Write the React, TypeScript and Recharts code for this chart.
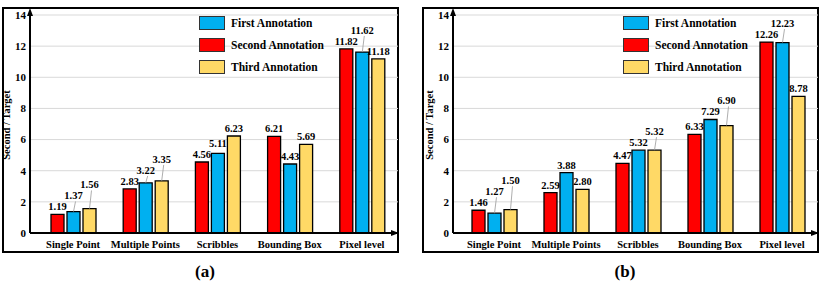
import React from "react";
import { BarChart, Bar, XAxis, YAxis, CartesianGrid, LabelList } from "recharts";

const CATEGORIES = ["Single Point", "Multiple Points", "Scribbles", "Bounding Box", "Pixel level"];
const Y_TICKS = [0, 2, 4, 6, 8, 10, 12, 14];

// panel (a)
const A_SECOND = [1.19, 2.83, 4.56, 6.21, 11.82];
const A_FIRST = [1.37, 3.22, 5.11, 4.43, 11.62];
const A_THIRD = [1.56, 3.35, 6.23, 5.69, 11.18];

// panel (b)
const B_SECOND = [1.46, 2.59, 4.47, 6.33, 12.26];
const B_FIRST = [1.27, 3.88, 5.32, 7.29, 12.23];
const B_THIRD = [1.5, 2.8, 5.32, 6.9, 8.78];

const LEGEND = [
  { key: "first", name: "First Annotation", color: "#00b0f0" },
  { key: "second", name: "Second Annotation", color: "#ff0000" },
  { key: "third", name: "Third Annotation", color: "#ffd966" },
];
// draw order left->right inside each category
const BAR_ORDER = ["second", "first", "third"];

const FONT = "'Liberation Serif', 'Times New Roman', serif";
const CHART_W = 400;
const CHART_H = 253;
const TOP = 15;
const X_AXIS_H = 20;
const LABEL_STEP = 11;

function buildRows(first: number[], second: number[], third: number[]) {
  return CATEGORIES.map((name, i) => ({ name, first: first[i], second: second[i], third: third[i] }));
}

// value label that steps upward when it would collide with the label on its left
function makeLabel(seriesKey: string, data: any[]) {
  return (props: any) => {
    const { x, y, width, height, value, index } = props;
    if (value == null) return null;
    const row = data[index];
    const bottom = y + height;
    const pxPerUnit = value ? height / value : 0;
    const tops = BAR_ORDER.map((k) => bottom - row[k] * pxPerUnit);
    const base: number[] = [];
    tops.forEach((t, i) => {
      let b = t - 4;
      if (i > 0 && Math.abs(base[i - 1] - b) < LABEL_STEP) b = base[i - 1] - LABEL_STEP;
      base.push(b);
    });
    const pos = BAR_ORDER.indexOf(seriesKey);
    const ly = base[pos];
    const cx = x + width / 2;
    const raised = ly < y - 7;
    return (
      <g>
        {raised && <line x1={cx + 2} y1={ly + 2} x2={cx} y2={y} stroke="#999" strokeWidth={0.8} />}
        <text x={cx} y={ly} textAnchor="middle" fill="#000" fontSize={10.5} fontWeight={700} fontFamily={FONT}>
          {Number(value).toFixed(2)}
        </text>
      </g>
    );
  };
}

type PanelProps = {
  left: number;
  axisW: number;
  padLeft: number;
  legendX: number;
  labelX: number;
  caption: string;
  first: number[];
  second: number[];
  third: number[];
};

function Panel({ left, axisW, padLeft, legendX, labelX, caption, first, second, third }: PanelProps) {
  const data = buildRows(first, second, third);
  const plotRight = CHART_W - 2;
  const plotBottom = CHART_H - X_AXIS_H;
  const tick = { fill: "#000", fontSize: 10.5, fontWeight: 700, fontFamily: FONT };

  return (
    <div style={{ position: "absolute", left, top: 0, width: CHART_W, height: 284 }}>
      <div
        style={{
          position: "absolute",
          left: 2,
          top: 7,
          width: 397,
          height: 246,
          border: "2px solid #000",
          boxSizing: "border-box",
        }}
      />
      <div style={{ position: "absolute", left: 0, top: 0 }}>
        <BarChart
          width={CHART_W}
          height={CHART_H}
          data={data}
          margin={{ top: TOP, right: 2, left: 0, bottom: 0 }}
          barSize={13}
          barGap={3}
        >
          <CartesianGrid vertical={false} stroke="#d9d9d9" strokeWidth={1} />
          <XAxis
            dataKey="name"
            height={X_AXIS_H}
            padding={{ left: padLeft, right: 0 }}
            tickLine={false}
            axisLine={{ stroke: "#000", strokeWidth: 2 }}
            tick={tick}
            interval={0}
          />
          <YAxis
            width={axisW}
            domain={[0, 14]}
            ticks={Y_TICKS}
            tickLine={false}
            tickSize={2}
            axisLine={{ stroke: "#000", strokeWidth: 2 }}
            tick={{ ...tick, fontSize: 11 }}
          />
          {BAR_ORDER.map((k) => {
            const s = LEGEND.find((l) => l.key === k)!;
            return (
              <Bar key={k} dataKey={k} fill={s.color} stroke="#000" strokeWidth={1.3} isAnimationActive={false}>
                <LabelList dataKey={k} content={makeLabel(k, data)} />
              </Bar>
            );
          })}
        </BarChart>
      </div>
      {/* axis arrow heads */}
      <svg width={CHART_W} height={CHART_H} style={{ position: "absolute", left: 0, top: 0, pointerEvents: "none" }}>
        <line x1={axisW} y1={TOP} x2={axisW} y2={TOP - 4} stroke="#000" strokeWidth={2} />
        <polygon points={`${axisW},${TOP - 7} ${axisW - 3},${TOP + 1} ${axisW + 3},${TOP + 1}`} fill="#000" />
        <polygon
          points={`${plotRight + 1},${plotBottom} ${plotRight - 7},${plotBottom - 3} ${plotRight - 7},${plotBottom + 3}`}
          fill="#000"
        />
      </svg>
      {/* legend */}
      <div style={{ position: "absolute", left: legendX, top: 15, fontFamily: FONT, fontWeight: 700, fontSize: 11.5 }}>
        {LEGEND.map((l) => (
          <div key={l.key} style={{ display: "flex", alignItems: "center", height: 15, marginBottom: 7 }}>
            <div style={{ width: 26, height: 14, background: l.color, border: "1px solid #333", boxSizing: "border-box" }} />
            <span style={{ marginLeft: 6 }}>{l.name}</span>
          </div>
        ))}
      </div>
      {/* y axis title */}
      <div
        style={{
          position: "absolute",
          left: labelX - 50,
          top: 125 - 7,
          width: 100,
          height: 14,
          lineHeight: "14px",
          textAlign: "center",
          transform: "rotate(-90deg)",
          fontFamily: FONT,
          fontWeight: 700,
          fontSize: 10.5,
        }}
      >
        Second / Target
      </div>
      <div
        style={{
          position: "absolute",
          left: 0,
          width: 410,
          top: 262,
          textAlign: "center",
          fontFamily: FONT,
          fontWeight: 700,
          fontSize: 17,
        }}
      >
        {caption}
      </div>
    </div>
  );
}

export default function App() {
  return (
    <div style={{ position: "absolute", left: 0, top: 0, width: 822, height: 284, background: "#fff" }}>
      <Panel left={0} axisW={30} padLeft={7} legendX={199} labelX={7} caption="(a)" first={A_FIRST} second={A_SECOND} third={A_THIRD} />
      <Panel left={420} axisW={33} padLeft={5} legendX={203} labelX={10} caption="(b)" first={B_FIRST} second={B_SECOND} third={B_THIRD} />
    </div>
  );
}
